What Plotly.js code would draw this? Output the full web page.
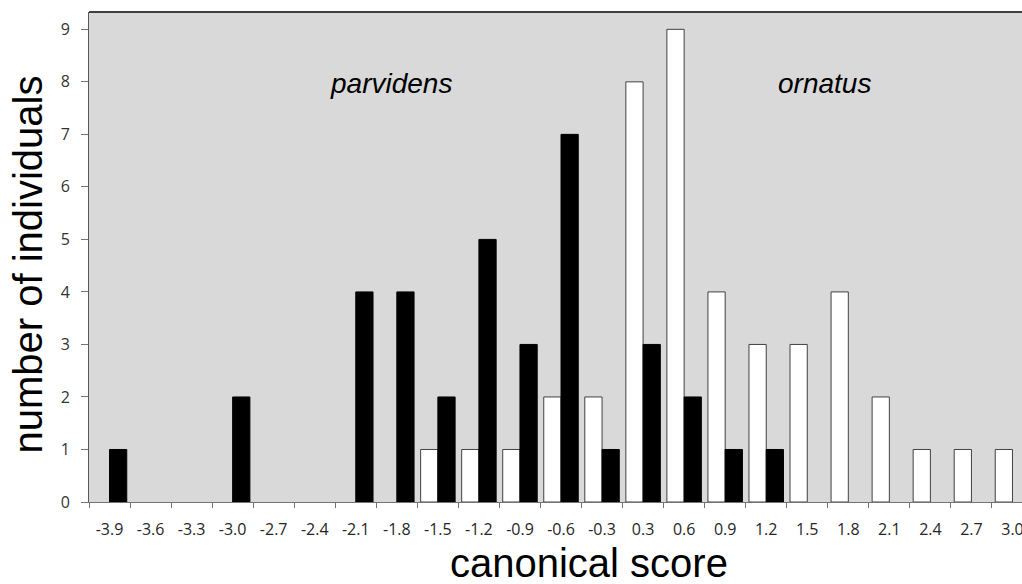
<!DOCTYPE html>
<html>
<head>
<meta charset="utf-8">
<script src="https://cdn.plot.ly/plotly-3.0.1.min.js"></script>
<style>
html, body { margin: 0; padding: 0; overflow: hidden; background: #fff; }
#chart { width: 1045px; height: 584px; }
</style>
</head>
<body>
<div id="chart"></div>
<script>
// canonical score bins (category labels, no 0.0 bin)
const categories = ["-3.9","-3.6","-3.3","-3.0","-2.7","-2.4","-2.1","-1.8","-1.5","-1.2","-0.9","-0.6","-0.3","0.3","0.6","0.9","1.2","1.5","1.8","2.1","2.4","2.7","3.0"];
// ornatus (white bars)
const ornatus   = [0,0,0,0,0,0,0,0,1,1,1,2,2,8,9,4,3,3,4,2,1,1,1];
// parvidens (black bars)
const parvidens = [1,0,0,2,0,0,4,4,2,5,3,7,1,3,2,1,1,0,0,0,0,0,0];
const yTicks = [0,1,2,3,4,5,6,7,8,9];

const hideZero = arr => arr.map(v => v === 0 ? null : v);

const traces = [
  {
    type: 'bar', name: 'ornatus', x: categories, y: hideZero(ornatus),
    marker: { color: '#ffffff', line: { color: '#404040', width: 1 } }
  },
  {
    type: 'bar', name: 'parvidens', x: categories, y: hideZero(parvidens),
    marker: { color: '#000000', line: { color: '#000000', width: 1 } }
  }
];

const layout = {
  width: 1045, height: 584,
  margin: { l: 89, r: 12, t: 12, b: 82 },
  paper_bgcolor: '#ffffff',
  plot_bgcolor: '#d9d9d9',
  showlegend: false,
  barmode: 'group',
  bargap: 0.16,
  bargroupgap: 0,
  font: { family: 'Open Sans, Liberation Sans, sans-serif', color: '#262626' },
  xaxis: {
    type: 'category',
    tickson: 'boundaries',
    ticks: 'outside', ticklen: 5, tickcolor: '#737373', tickwidth: 1,
    showline: true, linecolor: '#737373', linewidth: 1,
    showgrid: false, zeroline: false,
    tickfont: { family: 'Open Sans, sans-serif', size: 16, color: '#262626' },
    ticklabelstandoff: 13,
    range: [-0.5, 22.5]
  },
  yaxis: {
    range: [0, 9.33],
    tickvals: yTicks,
    ticktext: yTicks.map(String),
    ticks: 'outside', ticklen: 7, tickcolor: '#737373', tickwidth: 1,
    showline: true, linecolor: '#595959', linewidth: 1,
    showgrid: false, zeroline: false,
    tickfont: { family: 'Open Sans, sans-serif', size: 16, color: '#333333' },
    ticklabelstandoff: 8
  },
  shapes: [
    { type: 'line', xref: 'paper', yref: 'paper', x0: 0, x1: 1, y0: 1, y1: 1,
      line: { color: '#404040', width: 2 } }
  ],
  annotations: [
    { text: 'parvidens', xref: 'paper', yref: 'paper', x: 0.32, y: 0.855,
      xanchor: 'center', yanchor: 'middle', showarrow: false,
      font: { family: 'Liberation Sans, Arial, sans-serif', size: 28, color: '#000000', style: 'italic' } },
    { text: 'ornatus', xref: 'paper', yref: 'paper', x: 0.779, y: 0.855,
      xanchor: 'center', yanchor: 'middle', showarrow: false,
      font: { family: 'Liberation Sans, Arial, sans-serif', size: 28, color: '#000000', style: 'italic' } },
    { text: 'canonical score', xref: 'paper', yref: 'paper', x: 0.5297, y: -0.1245,
      xanchor: 'center', yanchor: 'middle', showarrow: false,
      font: { family: 'Liberation Sans, Arial, sans-serif', size: 40, color: '#000000' } },
    { text: 'number of individuals', xref: 'paper', yref: 'paper', x: -0.0646, y: 0.4847,
      xanchor: 'center', yanchor: 'middle', showarrow: false, textangle: -90,
      font: { family: 'Liberation Sans, Arial, sans-serif', size: 40, color: '#000000' } }
  ]
};

Plotly.newPlot('chart', traces, layout, { displayModeBar: false, staticPlot: true });
</script>
</body>
</html>
